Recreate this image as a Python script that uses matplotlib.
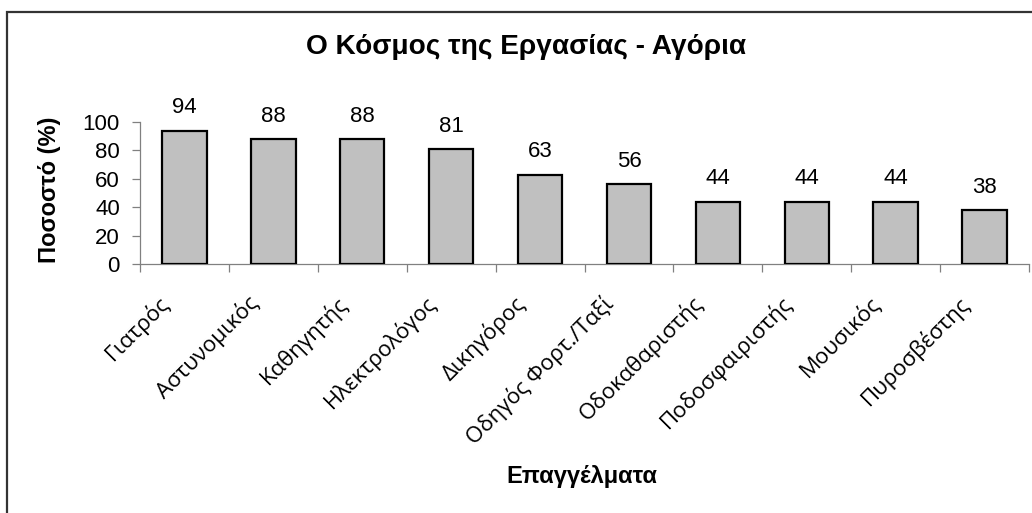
import matplotlib
matplotlib.use("Agg")
import matplotlib.pyplot as plt
from matplotlib.patches import Rectangle
import matplotlib.transforms as mtransforms
import numpy as np

categories = ["Γιατρός", "Αστυνομικός", "Καθηγητής", "Ηλεκτρολόγος", "Δικηγόρος",
              "Οδηγός Φορτ./Ταξί", "Οδοκαθαριστής", "Ποδοσφαιριστής", "Μουσικός", "Πυροσβέστης"]
values = [94, 88, 88, 81, 63, 56, 44, 44, 44, 38]
yticks = [0, 20, 40, 60, 80, 100]
title = "Ο Κόσμος της Εργασίας - Αγόρια"
xlabel = "Επαγγέλματα"
ylabel = "Ποσοστό (%)"

W, H = 1032, 513
fig = plt.figure(figsize=(W / 100, H / 100), dpi=100)
fig.patch.set_facecolor("white")

def fx(px):
    return px / W

def fy(py):
    return 1 - py / H

ax = fig.add_axes([fx(140), fy(264), fx(1029) - fx(140), fy(122) - fy(264)])
x = np.arange(len(categories))
ax.bar(x, values, width=0.5, color="#C0C0C0", edgecolor="black", linewidth=1.6, zorder=3)
ax.set_xlim(-0.5, len(categories) - 0.5)
ax.set_ylim(0, 100)

for xi, v in zip(x, values):
    ax.annotate(str(v), (xi, v), xytext=(0, 12.5), textcoords="offset points",
                ha="center", va="baseline", fontsize=16, family="Liberation Sans")

for s in ["top", "right"]:
    ax.spines[s].set_visible(False)
for s in ["left", "bottom"]:
    ax.spines[s].set_color("#808080")
    ax.spines[s].set_linewidth(0.9)

ax.set_yticks(yticks)
ax.set_yticklabels([str(t) for t in yticks], fontsize=16, family="Liberation Sans")
ax.tick_params(axis="y", direction="out", length=5.5, width=0.9, color="#808080", pad=9)

ax.set_xticks(x)
ax.set_xticklabels(categories, rotation=45, ha="right", va="center", rotation_mode="anchor",
                   fontsize=16, family="Open Sans")
ax.tick_params(axis="x", which="major", length=0, pad=26)
shift = mtransforms.ScaledTranslation(-13.3 / 72, 0, fig.dpi_scale_trans)
for lab in ax.get_xticklabels():
    lab.set_transform(lab.get_transform() + shift)
ax.set_xticks(np.arange(len(categories) + 1) - 0.5, minor=True)
ax.tick_params(axis="x", which="minor", direction="out", length=5.5, width=0.9, color="#808080")

fig.text(fx(526), fy(47), title, ha="center", va="center", fontsize=20.2, fontweight="bold",
         family="Liberation Sans")
fig.text(fx(582), fy(477), xlabel, ha="center", va="center", fontsize=17, fontweight="bold",
         family="Liberation Sans")
fig.text(fx(50), fy(190), ylabel, ha="center", va="center", rotation=90, fontsize=17,
         fontweight="bold", family="Liberation Sans")

border = Rectangle((fx(7), -0.5), 2, fy(12) + 0.5, transform=fig.transFigure, fill=False,
                   edgecolor="#333333", linewidth=1.6)
fig.add_artist(border)

fig.savefig("out.png", dpi=100)
